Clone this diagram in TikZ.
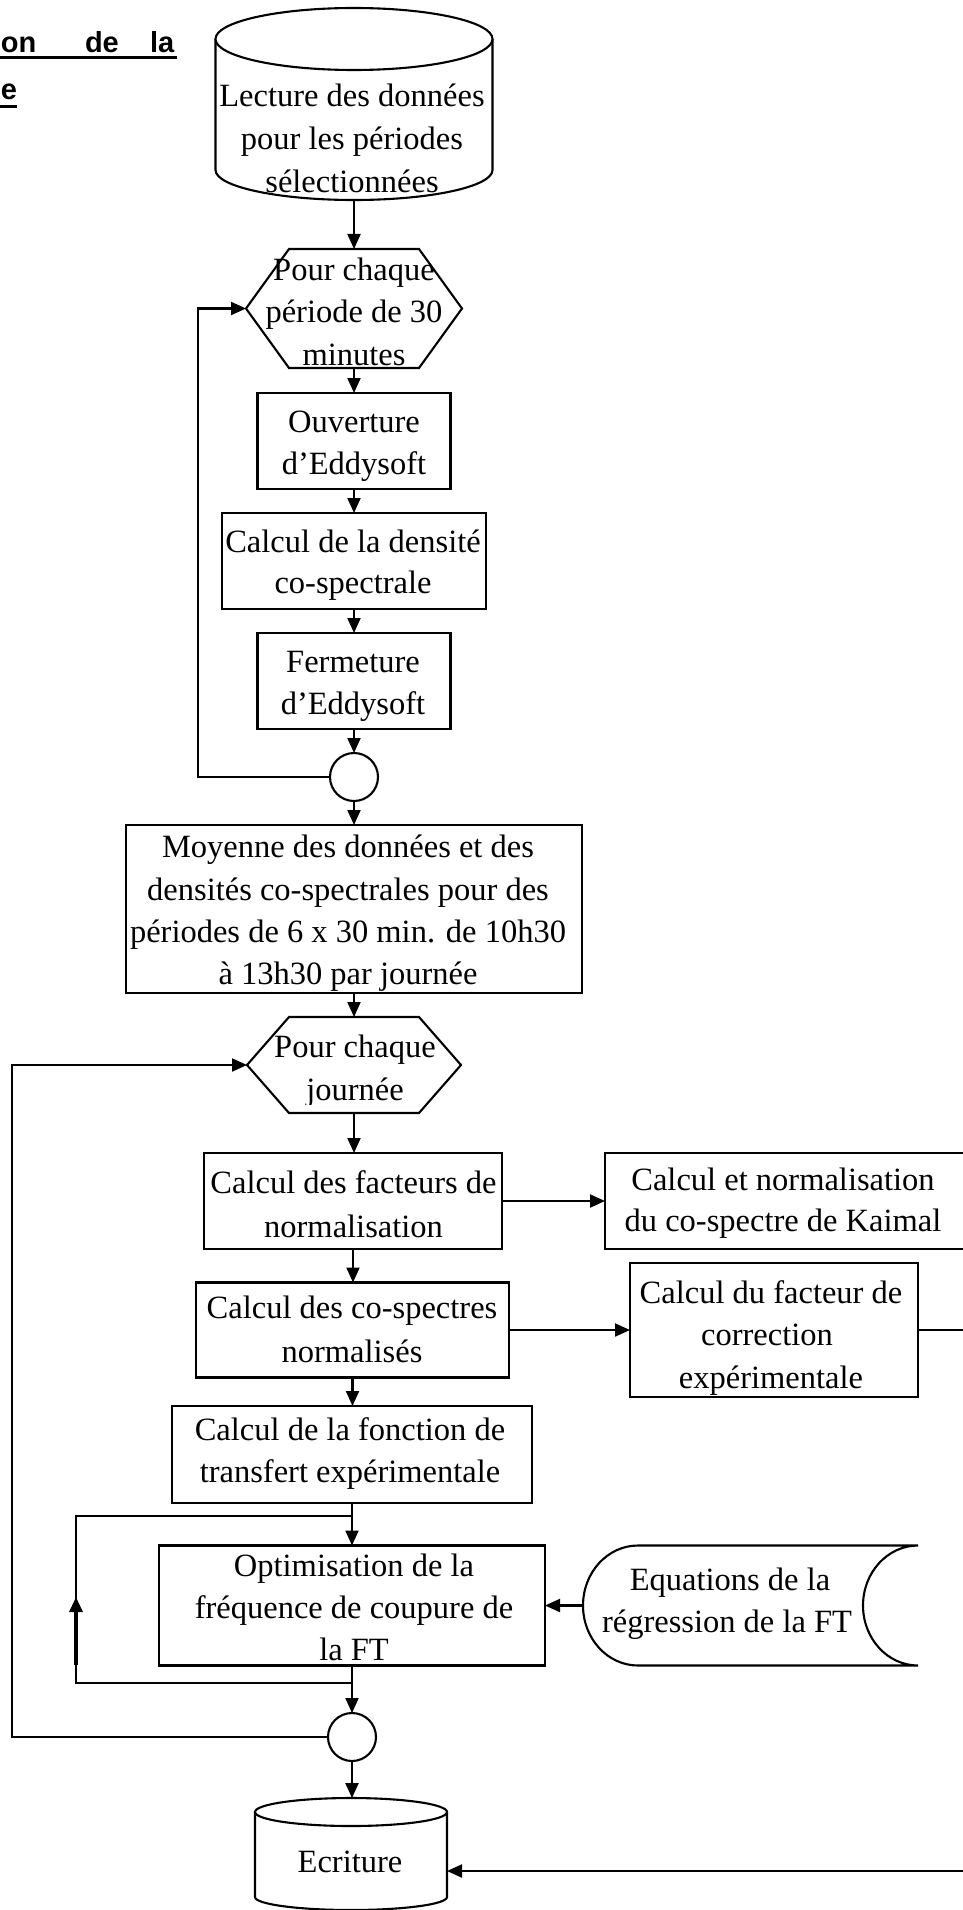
\documentclass[tikz,border=0pt]{standalone}
\usepackage{fontspec}
\setmainfont{Liberation Serif}
\newfontfamily\titlefont{Liberation Sans}
\usetikzlibrary{arrows.meta}
\tikzset{
  ln/.style={line width=2.1pt, draw=black},
  arr/.style={ln, -{Triangle[length=15pt,width=13pt]}},
  box/.style={ln, fill=white, rectangle, inner sep=0pt, outer sep=0pt},
  ghost/.style={rectangle, inner sep=0pt, outer sep=0pt},
  rnd/.style={ln, fill=white, circle, minimum size=48pt, inner sep=0pt, outer sep=0pt},
  txt/.style={inner sep=0pt, outer sep=0pt, anchor=base, font=\fontsize{32.5}{40}\selectfont},
  ttl/.style={inner sep=0pt, outer sep=0pt, anchor=base west, font=\titlefont\bfseries\fontsize{29}{34}\selectfont},
}
\newcommand\tline[4]{\node[txt] (#1) at (#2,#3) {#4};}
\begin{document}
\begin{tikzpicture}[x=1pt,y=-1pt]
\useasboundingbox (0,0) rectangle (963,1910);
\fill[white] (0,0) rectangle (963,1910);
\clip (0,0) rectangle (963,1910);

% title fragment
\node[ttl] (t1) at (1,53) {on};
\node[ttl] (t2) at (85,53) {de};
\node[ttl] (t3) at (150,53) {la};
\node[ttl] (t4) at (1,100) {e};
\draw[line width=3pt] (0,57.5) -- (177,57.5);
\draw[line width=3pt] (0,107) -- (17,107);

% ghost nodes for non-rectangular shapes
\node[ghost, minimum width=277pt, minimum height=192pt] (cyl1) at (354,104) {};
\node[ghost, minimum width=216pt, minimum height=119pt] (hex1) at (354,308.5) {};
\node[ghost, minimum width=214pt, minimum height=96pt] (hex2) at (354,1065) {};
\node[ghost, minimum width=335pt, minimum height=120pt] (eq) at (750.5,1605.5) {};
\node[ghost, minimum width=192pt, minimum height=112pt] (ecr) at (351,1854) {};
\coordinate (ecrin) at (447,1871);
\coordinate (jt) at (352,1516);
\coordinate (jb) at (352,1683);
\coordinate (lupA) at (76,1665);
\coordinate (lupB) at (76,1597);

% boxes
\node[box, minimum width=193pt, minimum height=96pt] (ouv) at (354,441) {};
\node[box, minimum width=264pt, minimum height=96pt] (dens) at (354,561) {};
\node[box, minimum width=193pt, minimum height=96pt] (ferm) at (354,681) {};
\node[rnd] (c1) at (354,777) {};
\node[box, minimum width=456pt, minimum height=168pt] (moy) at (354,909) {};
\node[box, minimum width=298pt, minimum height=96pt] (fact) at (353,1201) {};
\node[box, minimum width=360pt, minimum height=96pt] (kai) at (785,1201) {};
\node[box, minimum width=313pt, minimum height=95pt] (cosp) at (352.5,1330) {};
\node[box, minimum width=288pt, minimum height=134pt] (corr) at (774,1330) {};
\node[box, minimum width=360pt, minimum height=97pt] (fonc) at (352,1454.5) {};
\node[box, minimum width=386pt, minimum height=120pt] (opt) at (352,1605.5) {};
\node[rnd] (c2) at (352,1737) {};

% cylinder 1
\draw[ln, fill=white] (215.5,39) -- (215.5,170) arc[start angle=180, end angle=0, x radius=138.5, y radius=30] -- (492.5,39);
\draw[ln, fill=white] (354,39) ellipse [x radius=138.5, y radius=31];
% hexagons
\draw[ln, fill=white] (246,308.5) -- (289,249) -- (419,249) -- (462,308.5) -- (419,368) -- (289,368) -- cycle;
\draw[ln, fill=white] (247,1065) -- (289,1017) -- (419,1017) -- (461,1065) -- (419,1113) -- (289,1113) -- cycle;
% stored data
\draw[ln, fill=white] (638,1545.5) -- (918,1545.5) arc[start angle=270, end angle=90, x radius=55, y radius=60] -- (638,1665.5) arc[start angle=90, end angle=270, x radius=55, y radius=60] -- cycle;
% cylinder 2
\draw[ln, fill=white] (255,1812) -- (255,1897) arc[start angle=180, end angle=0, x radius=96, y radius=13] -- (447,1812);
\draw[ln, fill=white] (351,1812) ellipse [x radius=96, y radius=14];

% connectors
\draw[arr] (cyl1.south) -- (cyl1.south |- hex1.north);
\draw[arr] (hex1.south) -- (hex1.south |- ouv.north);
\draw[arr] (ouv.south) -- (ouv.south |- dens.north);
\draw[arr] (dens.south) -- (dens.south |- ferm.north);
\draw[arr] (ferm.south) -- (ferm.south |- c1.north);
\draw[arr] (c1.south) -- (c1.south |- moy.north);
\draw[arr] (c1.west) -- ++(-132,0) |- (hex1.west);
\draw[arr] (moy.south) -- (moy.south |- hex2.north);
\draw[arr] (hex2.south) -- (hex2.south |- fact.north);
\draw[arr] (fact.east) -- (kai.west);
\draw[arr] (fact.south) -- (fact.south |- cosp.north);
\draw[arr] (cosp.east) -- (corr.west);
\draw[arr] (cosp.south) -- (cosp.south |- fonc.north);
\draw[arr] (fonc.south) -- (fonc.south |- opt.north);
\draw[arr] (eq.west) -- (opt.east);
\draw[ln] (jb) -- ++(-276,0) |- (jt);
\draw[arr, line width=3.2pt] (lupA) -- (lupB);
\draw[arr] (opt.south) -- (opt.south |- c2.north);
\draw[arr] (c2.west) -- ++(-316,0) |- (hex2.west);
\draw[arr] (c2.south) -- (c2.south |- ecr.north);
\draw[arr] (corr.east) -- ++(57,0) |- (ecrin);

% texts
\tline{a1}{352}{107}{Lecture des données}
\tline{a2}{352}{150}{pour les périodes}
\tline{a3}{352}{193}{sélectionnées}
\tline{b1}{354}{280}{Pour chaque}
\tline{b2}{354}{322.5}{période de 30}
\tline{b3}{354}{365}{minutes}
\tline{c1a}{354}{432}{Ouverture}
\tline{c1b}{354}{474}{d’Eddysoft}
\tline{d1}{353}{552}{Calcul de la densité}
\tline{d2}{353}{593}{co-spectrale}
\tline{e1}{353}{672}{Fermeture}
\tline{e2}{353}{714}{d’Eddysoft}
\tline{f1}{348}{857}{Moyenne des données et des}
\tline{f2}{348}{900}{densités co-spectrales pour des}
\tline{f3}{348}{942}{périodes de 6 x 30 min. de 10h30}
\tline{f4}{348}{984}{à 13h30 par journée}
\tline{g1}{355}{1057}{Pour chaque}
\begin{scope}
\clip (250,1070) rectangle (460,1104);
\tline{g2}{355}{1100}{journée}
\end{scope}
\tline{h1}{353.5}{1193}{Calcul des facteurs de}
\tline{h2}{353.5}{1237}{normalisation}
\tline{k1}{783}{1190}{Calcul et normalisation}
\tline{k2}{783}{1231}{du co-spectre de Kaimal}
\tline{m1}{352}{1318}{Calcul des co-spectres}
\tline{m2}{352}{1362}{normalisés}
\tline{n1}{771}{1303}{Calcul du facteur de}
\tline{n2}{767}{1345}{correction}
\tline{n3}{771}{1388}{expérimentale}
\tline{p1}{350}{1440}{Calcul de la fonction de}
\tline{p2}{350}{1482}{transfert expérimentale}
\tline{q1}{354}{1576}{Optimisation de la}
\tline{q2}{354}{1618}{fréquence de coupure de}
\tline{q3}{354}{1660}{la FT}
\tline{r1}{730}{1590}{Equations de la}
\tline{r2}{727}{1632}{régression de la FT}
\tline{s1}{350}{1872}{Ecriture}
\end{tikzpicture}
\end{document}
